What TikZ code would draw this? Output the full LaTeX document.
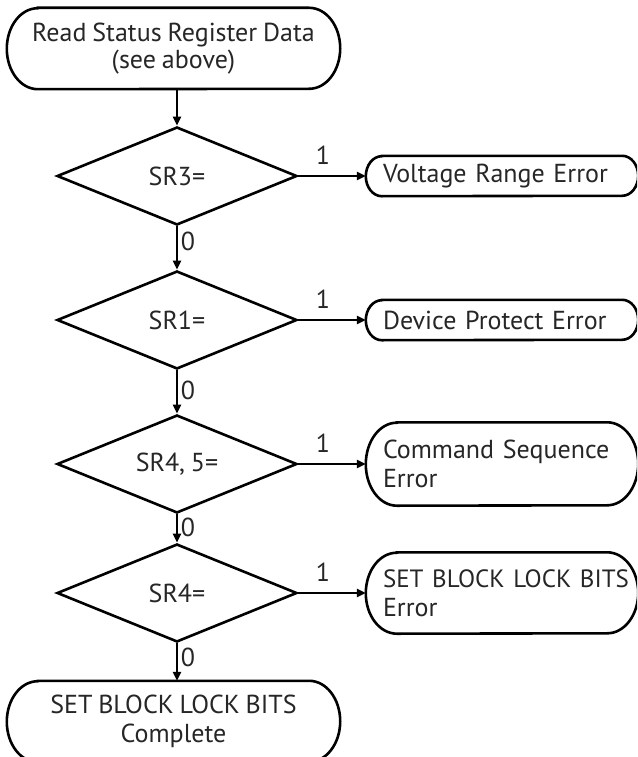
\documentclass[tikz,border=0pt]{standalone}
\usepackage{fontspec}
\setmainfont{PT Sans}[WordSpace=0.85]
\usetikzlibrary{shapes.geometric,arrows.meta}

% Outline of a terminal box with elliptical ends, drawn around a named node.
% #1 node name, #2 horizontal radius of the ends, #3 half height of the node
\newcommand\capsuleline[3]{%
  \draw[outline] ([xshift=#2]#1.north west) -- ([xshift=-#2]#1.north east)
    arc[start angle=90, end angle=-90, x radius=#2, y radius=#3]
    -- ([xshift=#2]#1.south west)
    arc[start angle=270, end angle=90, x radius=#2, y radius=#3] -- cycle;}

\begin{document}
\begin{tikzpicture}[x=1pt, y=1pt,
  txt/.style={font=\fontsize{26}{27}\selectfont, text=black!85},
  twoline/.style={font=\fontsize{26}{29}\selectfont},
  outline/.style={line width=2.6pt, draw=black},
  decision/.style={diamond, outline, txt, minimum width=240pt,
    minimum height=98pt, inner sep=0pt, aspect=2.45},
  capsule/.style={rectangle, inner sep=0pt, txt},
  errbox/.style={capsule, minimum width=272pt, text width=238pt, align=left},
  flow/.style={line width=2.6pt, -{Triangle[length=9pt, width=8pt]}},
  lbl/.style={txt, inner sep=0pt}]

\useasboundingbox (0,0) rectangle (637,-757);
\clip (0,0) rectangle (637,-757);

% start and end terminals
\node[capsule, minimum width=333pt, minimum height=81pt, align=center]
  (start) at (173.5,-48.5) {Read Status Register Data\\(see above)};
\capsuleline{start}{31pt}{40.5pt}

\node[capsule, twoline, minimum width=333pt, minimum height=81pt, align=center]
  (done) at (173.5,-721.5) {SET BLOCK LOCK BITS\\Complete};
\capsuleline{done}{31pt}{40.5pt}

% status bit checks
\node[decision] (d1) at (177,-176) {SR3=};
\node[decision] (d2) at (177,-320) {SR1=};
\node[decision] (d3) at (177,-464) {SR4, 5=};
\node[decision] (d4) at (177,-593) {SR4=};

% error terminals
\node[errbox, minimum height=40pt] (e1) at (502,-176) {Voltage Range Error};
\capsuleline{e1}{16pt}{20pt}
\node[errbox, minimum height=40pt] (e2) at (502,-320) {Device Protect Error};
\capsuleline{e2}{16pt}{20pt}
\node[errbox, twoline, minimum height=83pt] (e3) at (502,-464)
  {Command Sequence\\Error};
\capsuleline{e3}{31pt}{41.5pt}
\node[errbox, twoline, minimum height=81pt] (e4) at (502,-593)
  {\mbox{\fontsize{25}{29}\selectfont SET BLOCK LOCK BITS}\\Error};
\capsuleline{e4}{31pt}{40.5pt}

% main flow
\draw[flow] (d1.north |- start.south) -- (d1.north);
\draw[flow] (d1.south) -- (d2.north);
\draw[flow] (d2.south) -- (d3.north);
\draw[flow] (d3.south) -- (d4.north);
\draw[flow] (d4.south) -- (d4.south |- done.north);

% error branches
\draw[flow] (d1.east) -- (e1.west);
\draw[flow] (d2.east) -- (e2.west);
\draw[flow] (d3.east) -- (e3.west);
\draw[flow] (d4.east) -- (e4.west);

% branch values
\node[lbl] (o1) at (323,-155) {1};
\node[lbl] (o2) at (323,-299) {1};
\node[lbl] (o3) at (323,-443) {1};
\node[lbl] (o4) at (323,-572) {1};
\node[lbl] (z1) at (188,-241) {0};
\node[lbl] (z2) at (188,-390) {0};
\node[lbl] (z3) at (188,-527) {0};
\node[lbl] (z4) at (188,-657) {0};
\end{tikzpicture}
\end{document}
